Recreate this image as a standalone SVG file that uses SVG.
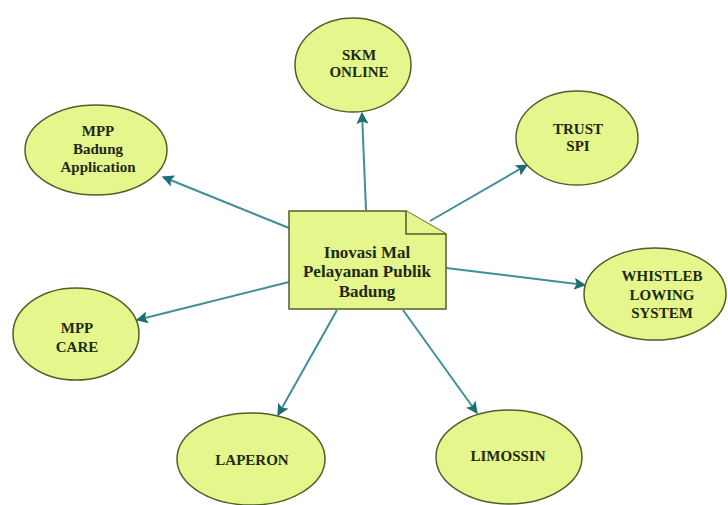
<svg xmlns="http://www.w3.org/2000/svg" width="728" height="505" viewBox="0 0 728 505">
<style>
.n{fill:#e4f68c;stroke:#4f5f2a;stroke-width:1.5}
.t{font-family:"Liberation Serif",serif;font-weight:bold;font-size:15px;fill:#1e2a10;text-anchor:middle}
.tb{font-size:17px}
.c{stroke:#3f8f99;stroke-width:2;fill:none;marker-end:url(#ah)}
</style>
<defs>
<marker id="ah" viewBox="0 0 10 10" refX="9" refY="5" markerWidth="6" markerHeight="6" orient="auto" markerUnits="strokeWidth">
<path d="M0,0 L10,5 L0,10 L2,5 z" fill="#1f6e72"/>
</marker>
</defs>
<rect width="728" height="505" fill="#ffffff"/>
<g id="connectors">
<line class="c" x1="366" y1="210" x2="362" y2="113"/>
<line class="c" x1="430" y1="221" x2="527" y2="165"/>
<line class="c" x1="289" y1="228" x2="163" y2="177"/>
<line class="c" x1="446" y1="268" x2="585" y2="285"/>
<line class="c" x1="289" y1="282" x2="137" y2="320"/>
<line class="c" x1="337" y1="310" x2="278" y2="415"/>
<line class="c" x1="403" y1="310" x2="477" y2="413"/>
</g>
<g id="center">
<path class="n" d="M289,211 L406,211 L446,234 L446,309 L289,309 Z"/>
<path class="n" d="M406,211 L406,234 L446,234" fill="none"/>
<text class="t tb" x="367" y="258">Inovasi Mal</text>
<text class="t tb" x="367" y="277">Pelayanan Publik</text>
<text class="t tb" x="367" y="297">Badung</text>
</g>
<g id="skm">
<ellipse class="n" cx="353" cy="65" rx="58" ry="47"/>
<text class="t" x="359" y="60">SKM</text>
<text class="t" x="359" y="77">ONLINE</text>
</g>
<g id="trust">
<ellipse class="n" cx="577" cy="138" rx="61" ry="47"/>
<text class="t" x="578" y="134">TRUST</text>
<text class="t" x="578" y="151">SPI</text>
</g>
<g id="mppbadung">
<ellipse class="n" cx="96" cy="150" rx="71" ry="45"/>
<text class="t" x="98" y="136">MPP</text>
<text class="t" x="98" y="154">Badung</text>
<text class="t" x="98" y="172">Application</text>
</g>
<g id="whistle">
<ellipse class="n" cx="655" cy="294" rx="71" ry="46"/>
<text class="t" x="662" y="281">WHISTLEB</text>
<text class="t" x="662" y="300">LOWING</text>
<text class="t" x="662" y="318">SYSTEM</text>
</g>
<g id="mppcare">
<ellipse class="n" cx="76" cy="334" rx="63" ry="46"/>
<text class="t" x="77" y="333">MPP</text>
<text class="t" x="77" y="352">CARE</text>
</g>
<g id="laperon">
<ellipse class="n" cx="251" cy="459" rx="74" ry="46"/>
<text class="t" x="252" y="465">LAPERON</text>
</g>
<g id="limossin">
<ellipse class="n" cx="509" cy="457" rx="73" ry="47"/>
<text class="t" x="508" y="461">LIMOSSIN</text>
</g>
</svg>
